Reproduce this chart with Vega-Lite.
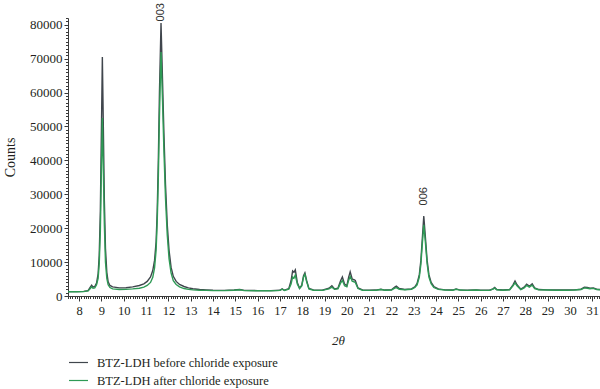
{
  "$schema": "https://vega.github.io/schema/vega-lite/v6.json",
  "width": 532,
  "height": 278,
  "autosize": {"type": "none"},
  "padding": {"left": 68, "top": 18, "right": 0, "bottom": 93},
  "background": "white",
  "config": {
    "view": {"stroke": null},
    "font": "Liberation Serif",
    "axis": {"grid": false, "domainColor": "#3a3a3a", "tickColor": "#3a3a3a", "labelColor": "#231f20", "titleColor": "#231f20", "labelFont": "Liberation Serif", "titleFont": "Liberation Serif", "titleFontWeight": "normal"},
    "legend": {"labelFont": "Liberation Serif", "labelColor": "#231f20"}
  },
  "resolve": {"axis": {"x": "independent", "y": "independent"}},
  "layer": [
    {
      "data": {"values": [
        {"t": 7.5, "before": 1300, "after": 1250},
        {"t": 7.9, "before": 1300, "after": 1250},
        {"t": 8.2, "before": 1350, "after": 1300},
        {"t": 8.4, "before": 1600, "after": 1500},
        {"t": 8.5, "before": 2600, "after": 2200},
        {"t": 8.56, "before": 3200, "after": 2700},
        {"t": 8.62, "before": 2600, "after": 2300},
        {"t": 8.7, "before": 2800, "after": 2400},
        {"t": 8.78, "before": 3800, "after": 3300},
        {"t": 8.85, "before": 6500, "after": 5200},
        {"t": 8.9, "before": 12000, "after": 9500},
        {"t": 8.95, "before": 25000, "after": 19000},
        {"t": 9.0, "before": 50000, "after": 38000},
        {"t": 9.04, "before": 70500, "after": 52500},
        {"t": 9.08, "before": 52000, "after": 39000},
        {"t": 9.13, "before": 28000, "after": 21000},
        {"t": 9.18, "before": 14000, "after": 10000},
        {"t": 9.24, "before": 7000, "after": 5200},
        {"t": 9.3, "before": 4200, "after": 3300},
        {"t": 9.38, "before": 3100, "after": 2500},
        {"t": 9.5, "before": 2700, "after": 2100},
        {"t": 9.8, "before": 2400, "after": 1900},
        {"t": 10.1, "before": 2450, "after": 1950},
        {"t": 10.4, "before": 2700, "after": 2100},
        {"t": 10.7, "before": 3100, "after": 2300},
        {"t": 10.9, "before": 3600, "after": 2600},
        {"t": 11.05, "before": 4300, "after": 3100},
        {"t": 11.2, "before": 5600, "after": 4000},
        {"t": 11.3, "before": 7500, "after": 5500},
        {"t": 11.38, "before": 10500, "after": 8300},
        {"t": 11.45, "before": 16000, "after": 13500},
        {"t": 11.5, "before": 25000, "after": 22000},
        {"t": 11.55, "before": 40000, "after": 35000},
        {"t": 11.6, "before": 60000, "after": 53000},
        {"t": 11.67, "before": 80500, "after": 72000},
        {"t": 11.74, "before": 63000, "after": 57000},
        {"t": 11.8, "before": 48000, "after": 43000},
        {"t": 11.87, "before": 33000, "after": 29000},
        {"t": 11.95, "before": 21000, "after": 18000},
        {"t": 12.03, "before": 13500, "after": 11000},
        {"t": 12.12, "before": 8500, "after": 6800},
        {"t": 12.22, "before": 5800, "after": 4500},
        {"t": 12.35, "before": 4300, "after": 3400},
        {"t": 12.5, "before": 3400, "after": 2700},
        {"t": 12.7, "before": 2800, "after": 2200},
        {"t": 12.9, "before": 2400, "after": 1950},
        {"t": 13.1, "before": 2150, "after": 1800},
        {"t": 13.4, "before": 1900, "after": 1700},
        {"t": 13.7, "before": 1800, "after": 1650},
        {"t": 14.0, "before": 1700, "after": 1600},
        {"t": 14.5, "before": 1650, "after": 1600},
        {"t": 14.95, "before": 1750, "after": 1700},
        {"t": 15.2, "before": 1900, "after": 1850},
        {"t": 15.4, "before": 1650, "after": 1600},
        {"t": 16.0, "before": 1600, "after": 1550},
        {"t": 16.6, "before": 1600, "after": 1550},
        {"t": 17.0, "before": 1700, "after": 1650},
        {"t": 17.1, "before": 2100, "after": 2000},
        {"t": 17.2, "before": 1700, "after": 1650},
        {"t": 17.4, "before": 2200, "after": 2000},
        {"t": 17.5, "before": 4500, "after": 3500},
        {"t": 17.57, "before": 7400, "after": 5600},
        {"t": 17.63, "before": 7000, "after": 5300},
        {"t": 17.69, "before": 7700, "after": 6200},
        {"t": 17.78, "before": 4000, "after": 3500},
        {"t": 17.88, "before": 2300, "after": 2200},
        {"t": 17.98, "before": 3200, "after": 3000},
        {"t": 18.06, "before": 6000, "after": 5600},
        {"t": 18.12, "before": 6800, "after": 6400},
        {"t": 18.2, "before": 4500, "after": 4200},
        {"t": 18.3, "before": 2200, "after": 2100},
        {"t": 18.5, "before": 1800, "after": 1700},
        {"t": 18.9, "before": 1700, "after": 1650},
        {"t": 19.2, "before": 2300, "after": 2100},
        {"t": 19.33, "before": 3000, "after": 2600},
        {"t": 19.45, "before": 2100, "after": 2000},
        {"t": 19.6, "before": 2300, "after": 2100},
        {"t": 19.72, "before": 4500, "after": 3800},
        {"t": 19.8, "before": 5600, "after": 4600},
        {"t": 19.9, "before": 3500, "after": 3000},
        {"t": 20.0, "before": 3000, "after": 2700},
        {"t": 20.08, "before": 5500, "after": 4600},
        {"t": 20.15, "before": 7100, "after": 5800},
        {"t": 20.24, "before": 5000, "after": 4400},
        {"t": 20.32, "before": 4800, "after": 4200},
        {"t": 20.38, "before": 4600, "after": 4000},
        {"t": 20.5, "before": 2400, "after": 2200},
        {"t": 20.7, "before": 1800, "after": 1700},
        {"t": 21.0, "before": 1700, "after": 1650},
        {"t": 21.3, "before": 1750, "after": 1700},
        {"t": 21.53, "before": 2000, "after": 1900},
        {"t": 21.7, "before": 1750, "after": 1700},
        {"t": 22.0, "before": 1800, "after": 1750},
        {"t": 22.15, "before": 2600, "after": 2300},
        {"t": 22.22, "before": 2900, "after": 2500},
        {"t": 22.35, "before": 2200, "after": 2000},
        {"t": 22.6, "before": 1900, "after": 1850},
        {"t": 22.9, "before": 2100, "after": 2000},
        {"t": 23.05, "before": 2700, "after": 2500},
        {"t": 23.15, "before": 3700, "after": 3300},
        {"t": 23.25, "before": 6300, "after": 5600},
        {"t": 23.32, "before": 10500, "after": 9400},
        {"t": 23.38, "before": 16500, "after": 15000},
        {"t": 23.45, "before": 23600, "after": 21000},
        {"t": 23.52, "before": 17500, "after": 16000},
        {"t": 23.6, "before": 10500, "after": 9500},
        {"t": 23.68, "before": 6300, "after": 5600},
        {"t": 23.78, "before": 4000, "after": 3600},
        {"t": 23.9, "before": 2800, "after": 2500},
        {"t": 24.1, "before": 2100, "after": 1950},
        {"t": 24.4, "before": 1800, "after": 1750},
        {"t": 24.75, "before": 1750, "after": 1700},
        {"t": 24.9, "before": 2100, "after": 2000},
        {"t": 25.05, "before": 1800, "after": 1750},
        {"t": 25.4, "before": 1700, "after": 1650},
        {"t": 25.8, "before": 1800, "after": 1750},
        {"t": 26.0, "before": 1700, "after": 1650},
        {"t": 26.4, "before": 1700, "after": 1650},
        {"t": 26.55, "before": 2100, "after": 2000},
        {"t": 26.63, "before": 2500, "after": 2300},
        {"t": 26.72, "before": 1900, "after": 1850},
        {"t": 27.0, "before": 1750, "after": 1700},
        {"t": 27.3, "before": 1900, "after": 1850},
        {"t": 27.45, "before": 3300, "after": 3000},
        {"t": 27.54, "before": 4400, "after": 3900},
        {"t": 27.63, "before": 3300, "after": 3000},
        {"t": 27.8, "before": 2000, "after": 1900},
        {"t": 27.95, "before": 2600, "after": 2400},
        {"t": 28.06, "before": 3500, "after": 3100},
        {"t": 28.18, "before": 2900, "after": 2600},
        {"t": 28.31, "before": 3600, "after": 3200},
        {"t": 28.42, "before": 2400, "after": 2200},
        {"t": 28.6, "before": 1900, "after": 1850},
        {"t": 29.0, "before": 1800, "after": 1750},
        {"t": 29.4, "before": 1750, "after": 1700},
        {"t": 29.8, "before": 1750, "after": 1700},
        {"t": 30.2, "before": 1800, "after": 1750},
        {"t": 30.5, "before": 2000, "after": 1900},
        {"t": 30.65, "before": 2600, "after": 2400},
        {"t": 30.78, "before": 2500, "after": 2300},
        {"t": 30.9, "before": 2300, "after": 2150},
        {"t": 31.05, "before": 2400, "after": 2250},
        {"t": 31.2, "before": 2000, "after": 1900},
        {"t": 31.35, "before": 1900, "after": 1850}
      ]},
      "transform": [{"fold": ["before", "after"], "as": ["series", "counts"]}],
      "mark": {"type": "line", "strokeWidth": 1.4, "clip": true},
      "encoding": {
        "x": {"field": "t", "type": "quantitative",
          "scale": {"domain": [7.5, 31.35], "nice": false, "zero": false},
          "axis": {"orient": "bottom", "values": [8,9,10,11,12,13,14,15,16,17,18,19,20,21,22,23,24,25,26,27,28,29,30,31], "format": "d", "labelFontSize": 12.5, "tickSize": 5, "labelPadding": 3, "title": "2θ", "titleFontSize": 13, "titleFontStyle": "italic", "titleX": 270, "titleY": 44, "titleBaseline": "middle"}},
        "y": {"field": "counts", "type": "quantitative",
          "scale": {"domain": [0, 82000], "nice": false},
          "axis": {"orient": "left", "values": [0,10000,20000,30000,40000,50000,60000,70000,80000], "format": "d", "labelFontSize": 13, "tickSize": 4, "labelPadding": 2, "title": "Counts", "titleFontSize": 14, "titleX": -58, "titleY": 139, "titleAngle": -90, "titleAlign": "center", "titleBaseline": "middle"}},
        "color": {"field": "series", "type": "nominal",
          "scale": {"domain": ["before", "after"], "range": ["#40464d", "#2e9a55"]},
          "legend": {"orient": "none", "legendX": 0, "legendY": 334, "title": null, "symbolType": "stroke", "symbolSize": 361, "symbolStrokeWidth": 1.2, "labelFontSize": 12.5, "labelOffset": 8, "labelLimit": 0, "rowPadding": 1,
            "labelExpr": "datum.label == 'before' ? 'BTZ-LDH before chloride exposure' : 'BTZ-LDH after chloride exposure'"}}
      }
    },
    {
      "data": {"values": [
        {"pos": 11.67, "c": 81000, "label": "003"},
        {"pos": 23.45, "c": 26700, "label": "006"}
      ]},
      "mark": {"type": "text", "angle": 270, "align": "left", "baseline": "middle", "font": "Liberation Sans", "fontSize": 11, "color": "#333333"},
      "encoding": {
        "x": {"field": "pos", "type": "quantitative", "axis": {"orient": "bottom", "tickCount": 240, "labels": false, "domain": false, "tickSize": 2.5, "title": null}},
        "y": {"field": "c", "type": "quantitative", "axis": {"orient": "left", "tickCount": 82, "labels": false, "domain": false, "tickSize": 2.5, "title": null}},
        "text": {"field": "label"}
      }
    },
    {
      "mark": {"type": "rule", "color": "#9fbfa8", "strokeWidth": 1},
      "encoding": {"y": {"datum": 1500, "axis": null}}
    }
  ]
}
